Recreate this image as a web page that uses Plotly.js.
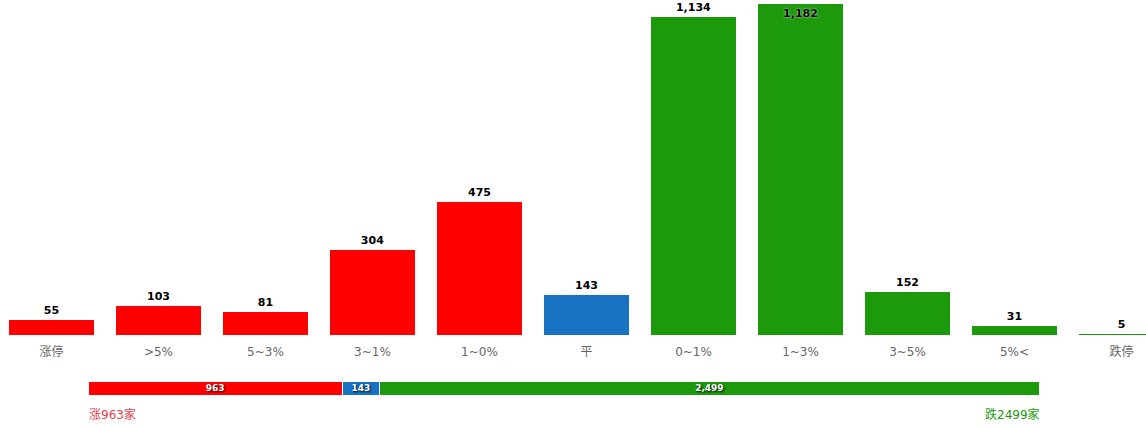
<!DOCTYPE html>
<html><head><meta charset="utf-8">
<script src="https://cdn.plot.ly/plotly-3.0.1.min.js"></script>
<style>html,body{margin:0;padding:0;background:#fff}#chart{width:1146px;height:427px}</style>
</head><body><div id="chart"></div>
<script>
const categories = ['涨停','>5%','5~3%','3~1%','1~0%','平','0~1%','1~3%','3~5%','5%<','跌停'];
const counts = [55,103,81,304,475,143,1134,1182,152,31,5];
const barColors = ['#ff0000','#ff0000','#ff0000','#ff0000','#ff0000','#1773c1','#1c9a0c','#1c9a0c','#1c9a0c','#1c9a0c','#1c9a0c'];
const labelPositions = ['outside','outside','outside','outside','outside','outside','outside','inside','outside','outside','outside'];
const summaryNames = ['涨','平','跌'];
const summaryValues = [963,143,2499];
const summaryColors = ['#ff0000','#1773c1','#1c9a0c'];
const W = 1146, H = 427;
const font = 'Tahoma, Verdana, "DejaVu Sans", "Noto Sans CJK SC", sans-serif';
const total = summaryValues.reduce((a,b)=>a+b,0);

const traces = [{
  type:'bar', x: categories.map((_,i)=>i), y: counts, width: 0.794,
  marker:{color: barColors},
  text: counts.map(v=>v.toLocaleString('en-US')), textposition: labelPositions,
  insidetextanchor:'end', constraintext:'none', cliponaxis:false,
  textfont:{family:font, size:11, color:'#000', weight:'bold', shadow:'0 0 2px #fff'},
  hoverinfo:'none', xaxis:'x', yaxis:'y'
}];
summaryValues.forEach((v,i)=>{
  traces.push({
    type:'bar', orientation:'h', y:[0], x:[v], width:1, name:summaryNames[i],
    marker:{color:summaryColors[i], line:{color:'#fff', width:1}},
    text:[v.toLocaleString('en-US')], textposition:'inside', insidetextanchor:'middle', constraintext:'none',
    textfont:{family:font, size:9, color:'#fff', weight:'bold', shadow:'1px 1px 2px #000'},
    hoverinfo:'none', xaxis:'x2', yaxis:'y2'
  });
});

const layout = {
  width:W, height:H, margin:{l:0,r:0,t:0,b:0}, showlegend:false,
  paper_bgcolor:'#fff', plot_bgcolor:'#fff', barmode:'stack',
  xaxis:{range:[-0.481,10.229], domain:[0,1], tickmode:'array', tickvals:categories.map((_,i)=>i), ticktext:categories,
    showgrid:false, zeroline:false, showline:false, ticks:'outside', ticklen:6, tickcolor:'rgba(0,0,0,0)',
    tickfont:{family:font, size:12, color:'#666'}, fixedrange:true},
  yaxis:{range:[0,1194.7], domain:[(H-335)/H,1], visible:false, fixedrange:true},
  xaxis2:{range:[0,total], domain:[88/W,1039/W], anchor:'y2', visible:false},
  yaxis2:{range:[-0.5,0.5], domain:[(H-395)/H,(H-381)/H], anchor:'x2', visible:false},
  annotations:[
    {xref:'paper', yref:'paper', x:87/W, y:(H-414)/H, xanchor:'left', yanchor:'middle', showarrow:false,
      text: summaryNames[0]+summaryValues[0]+'家', font:{family:font, size:12, color:'#e5404a'}},
    {xref:'paper', yref:'paper', x:1042/W, y:(H-414)/H, xanchor:'right', yanchor:'middle', showarrow:false,
      text: summaryNames[2]+summaryValues[2]+'家', font:{family:font, size:12, color:'#1c9a0c'}}
  ]
};
Plotly.newPlot('chart', traces, layout, {displayModeBar:false, staticPlot:true});
</script></body></html>
